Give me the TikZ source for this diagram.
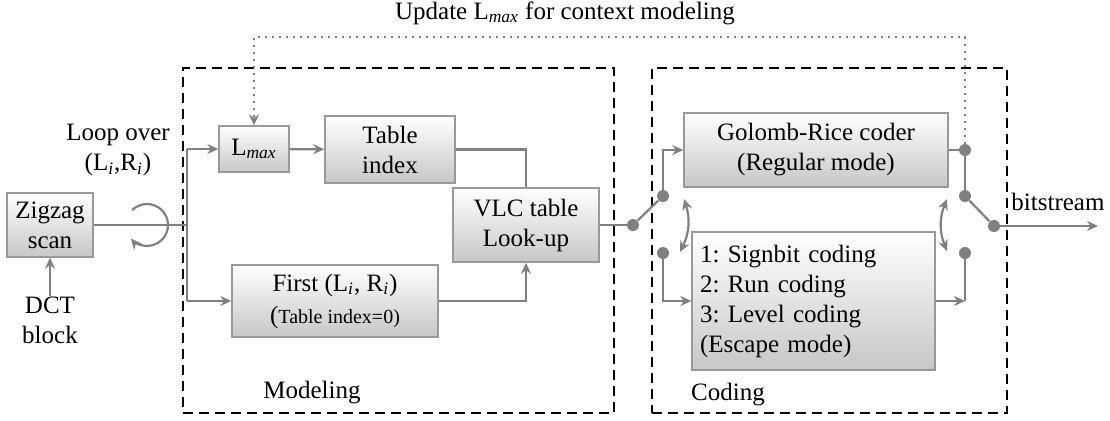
\documentclass[tikz,border=0pt]{standalone}
\usepackage{fontspec}
\setmainfont{Liberation Serif}
\usetikzlibrary{arrows.meta}
\frenchspacing
\newcommand{\Li}{L\textsubscript{\textit{i}}}
\newcommand{\Ri}{R\textsubscript{\textit{i}}}
\newcommand{\Lmax}{L\textsubscript{\textit{max}}}
\begin{document}
\begin{tikzpicture}[x=0.5pt,y=-0.5pt,
  font=\fontsize{12.5}{15}\selectfont,
  every node/.style={inner sep=0pt},
  blk/.style={draw=black!40, line width=0.7pt, top color=white, bottom color=black!22, align=center, inner sep=3pt},
  ln/.style={draw=black!50, line width=1.1pt},
  arr/.style={ln, -{Stealth[length=5.5pt,width=5pt,inset=1.8pt]}},
  darr/.style={ln, {Stealth[length=5.5pt,width=5pt,inset=1.8pt]}-{Stealth[length=5.5pt,width=5pt,inset=1.8pt]}},
  dotn/.style={circle, fill=black!50, minimum size=6pt, inner sep=0pt},
  frame/.style={draw=black, line width=1pt, dash pattern=on 5pt off 3pt},
  upd/.style={draw=black!50, line width=0.9pt, dash pattern=on 0.9pt off 2.6pt, -{Stealth[length=5.5pt,width=5pt,inset=1.8pt]}},
  lbl/.style={align=center}]
\useasboundingbox (0,0) rectangle (1110,420);

% frames
\node[frame, minimum width=215.5pt, minimum height=172.5pt] (modf) at (398.5,240.5) {};
\node[frame, minimum width=177.5pt, minimum height=172.5pt] (codf) at (829.5,240.5) {};
\node (modl) at (312,393) {Modeling};
\node (codl) at (728,395) {Coding};

% blocks
\node[blk, minimum width=43pt, minimum height=32pt] (zig) at (50,225) {Zigzag\\scan};
\node[lbl] (dct) at (50,320) {DCT\\block};
\node[blk, minimum width=35pt, minimum height=23pt] (lmax) at (254,149) {\Lmax};
\node[blk, minimum width=65pt, minimum height=33.5pt] (tidx) at (390,149.5) {Table\\index};
\node[blk, minimum width=73pt, minimum height=37pt] (vlc) at (526,225) {VLC table\\Look-up};
\node[blk, minimum width=103pt, minimum height=36pt] (first) at (335,301) {First (\Li, \Ri)\\[1pt]({\fontsize{10}{12}\selectfont Table index=0)}};
\node[blk, minimum width=132pt, minimum height=37pt] (gr) at (816,150) {Golomb-Rice coder\\(Regular mode)};
\node[blk, minimum width=121.5pt, minimum height=69pt, text width=113.5pt, inner xsep=4pt, align=left] (esc) at (813.5,301) {1: Signbit coding\\2: Run coding\\3: Level coding\\(Escape mode)};

% labels
\node[lbl] (loop) at (118,150) {Loop over\\(\Li,\Ri)};
\node (updl) at (565,13) {Update \Lmax{} for context modeling};
\node (bits) at (1058,202) {bitstream};

% dots
\node[dotn] (d1) at (633,225) {};
\node[dotn] (d2) at (663,196) {};
\node[dotn] (d3) at (663,253) {};
\node[dotn] (d4) at (965,150) {};
\node[dotn] (d5) at (965,196) {};
\node[dotn] (d6) at (994,226) {};
\node[dotn] (d7) at (965,253) {};

% coordinates
\coordinate (jn) at (187,225);
\coordinate (jt) at (187,149);
\coordinate (jb) at (187,301);
\coordinate (ut) at (965,37);
\coordinate (rc) at (965,301);
\coordinate (out) at (1098,226);
\coordinate (la) at (684,199);
\coordinate (lb) at (680,252);
\coordinate (ra) at (947,199);
\coordinate (rb) at (947,251);
\coordinate (lpc) at (147,225);

% connectors
\draw[arr] (dct.north) -- (zig.south);
\draw[ln] (zig.east) -- (jn);
\draw[ln] (jt) -- (jb);
\draw[arr] (jt) -- (lmax.west);
\draw[arr] (jb) -- (first.west);
\draw[arr] (lmax) -- (tidx);
\draw[ln] (tidx.east) -| (vlc.north);
\draw[arr] (first.east) -| (vlc.south);
\draw[ln] (vlc.east) -- (d1);
\draw[ln] (d1) -- (d2);
\draw[arr] (d2) |- (gr.west);
\draw[arr] (d3) |- (esc.west);
\draw[ln] (gr.east) -- (d4);
\draw[ln] (d4) -- (d5);
\draw[ln] (d5) -- (d6);
\draw[arr] (d6) -- (out);
\draw[arr] (esc.east) -- (rc);
\draw[ln] (rc) -- (d7);
\draw[darr] (la) to[bend left=22] (lb);
\draw[darr] (ra) to[bend right=22] (rb);
\draw[upd] (d4) -- (ut) -| (lmax.north);
% loop symbol
\draw[arr] (lpc) ++(-135:21) arc[start angle=-135, end angle=140, radius=21];
\end{tikzpicture}
\end{document}
